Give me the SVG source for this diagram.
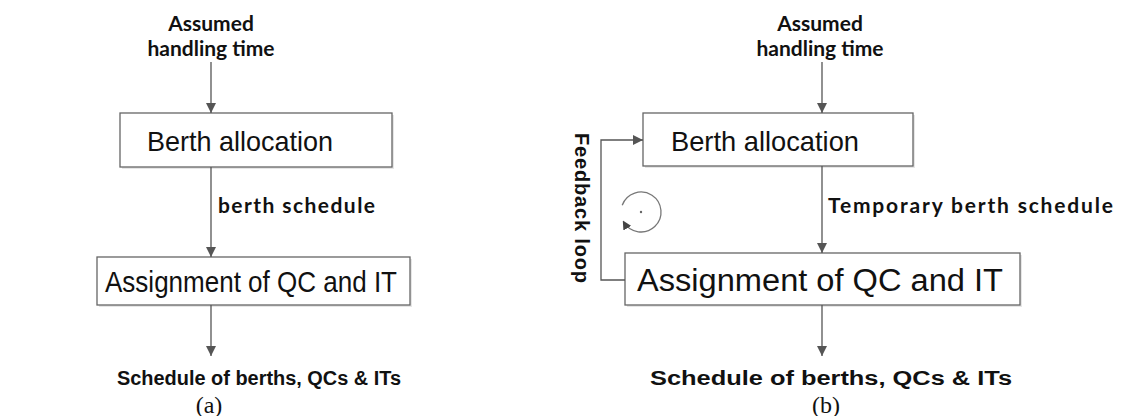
<svg xmlns="http://www.w3.org/2000/svg" width="1131" height="416" viewBox="0 0 1131 416">
  <defs>
    <marker id="head" viewBox="0 0 10 10" refX="10" refY="5" markerWidth="10" markerHeight="10" markerUnits="userSpaceOnUse" orient="auto">
      <path d="M0,0 L10,5 L0,10 Z" fill="#555"/>
    </marker>
    <marker id="head-small" viewBox="0 0 10 10" refX="8" refY="5" markerWidth="9" markerHeight="9" markerUnits="userSpaceOnUse" orient="auto">
      <path d="M0,0 L10,5 L0,10 Z" fill="#444"/>
    </marker>
  </defs>
  <style>
    .box { fill: #fff; stroke: #666; stroke-width: 1.3; }
    .shadow { fill: #e6e6e6; stroke: none; }
    .boxtext { font-family: "Liberation Sans", Arial, sans-serif; fill: #111; text-anchor: middle; }
    .label { font-family: Lato, "Liberation Sans", sans-serif; font-weight: 700; font-size: 21px; fill: #111; }
    .result { font-family: "Liberation Sans", Arial, sans-serif; font-weight: 700; font-size: 20px; fill: #111; text-anchor: middle; }
    .caption { font-family: "Liberation Serif", "Times New Roman", serif; font-size: 24px; fill: #111; text-anchor: middle; }
    .flow { fill: none; stroke: #555; stroke-width: 1.3; marker-end: url(#head); }
    .loop { fill: none; stroke: #555; stroke-width: 1.3; }
  </style>

  <!-- (a) sequential planning -->
  <g id="a-input">
    <text class="label" x="211" y="31" text-anchor="middle">Assumed</text>
    <text class="label" x="211" y="56" text-anchor="middle">handling time</text>
  </g>
  <g id="a-berth">
    <rect class="shadow" x="122" y="115" width="272" height="54"/>
    <rect class="box" x="120" y="113" width="272" height="54"/>
    <text class="boxtext" x="240" y="151" font-size="28" textLength="186" lengthAdjust="spacingAndGlyphs">Berth allocation</text>
  </g>
  <g id="a-assign">
    <rect class="shadow" x="99" y="259" width="313" height="48"/>
    <rect class="box" x="97" y="257" width="313" height="48"/>
    <text class="boxtext" x="251" y="292" font-size="30" textLength="292" lengthAdjust="spacingAndGlyphs">Assignment of QC and IT</text>
  </g>
  <g id="a-output">
    <text class="result" x="259" y="385" textLength="284" lengthAdjust="spacingAndGlyphs">Schedule of berths, QCs &amp; ITs</text>
  </g>
  <g id="a-edge-label">
    <text class="label" x="218" y="213" textLength="157" lengthAdjust="spacing">berth schedule</text>
  </g>
  <text class="caption" x="209" y="413">(a)</text>

  <!-- (b) planning with feedback -->
  <g id="b-input">
    <text class="label" x="820" y="31" text-anchor="middle">Assumed</text>
    <text class="label" x="820" y="56" text-anchor="middle">handling time</text>
  </g>
  <g id="b-berth">
    <rect class="shadow" x="645" y="115" width="270" height="53"/>
    <rect class="box" x="643" y="113" width="270" height="53"/>
    <text class="boxtext" x="765" y="151" font-size="28" textLength="188" lengthAdjust="spacingAndGlyphs">Berth allocation</text>
  </g>
  <g id="b-assign">
    <rect class="shadow" x="627" y="255" width="395" height="52"/>
    <rect class="box" x="625" y="253" width="395" height="52"/>
    <text class="boxtext" x="820" y="291" font-size="31" textLength="366" lengthAdjust="spacingAndGlyphs">Assignment of QC and IT</text>
  </g>
  <g id="b-output">
    <text class="result" x="831" y="385" textLength="362" lengthAdjust="spacingAndGlyphs">Schedule of berths, QCs &amp; ITs</text>
  </g>
  <g id="b-edge-label">
    <text class="label" x="828" y="213" textLength="285" lengthAdjust="spacing">Temporary berth schedule</text>
  </g>
  <g id="b-feedback-label">
    <text transform="translate(575,133) rotate(90)" font-family="'Liberation Sans', Arial, sans-serif" font-weight="700" font-size="20" fill="#111" textLength="150" lengthAdjust="spacing">Feedback loop</text>
  </g>
  <g id="b-cycle-icon">
    <path d="M622.2,205.2 A20,20 0 1 1 623.7,222" fill="none" stroke="#777" stroke-width="1.3" marker-end="url(#head-small)"/>
    <circle cx="641" cy="212" r="1.2" fill="#666"/>
  </g>
  <text class="caption" x="826" y="413">(b)</text>

  <!-- connectors -->
  <g id="connectors">
    <line class="flow" x1="211" y1="62" x2="211" y2="113"/>
    <line class="flow" x1="211" y1="167" x2="211" y2="257"/>
    <line class="flow" x1="211" y1="305" x2="211" y2="356"/>

    <line class="flow" x1="822" y1="62" x2="822" y2="113"/>
    <line class="flow" x1="822" y1="166" x2="822" y2="253"/>
    <line class="flow" x1="822" y1="305" x2="822" y2="356"/>

    <path class="loop" d="M625,280 H601 V140 H643" marker-end="url(#head)"/>
  </g>
</svg>
